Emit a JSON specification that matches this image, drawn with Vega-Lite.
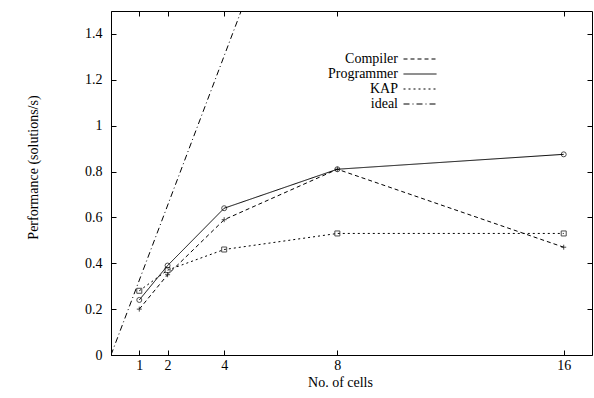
{
  "$schema": "https://vega.github.io/schema/vega-lite/v6.json",
  "width": 481,
  "height": 344,
  "autosize": {"type": "none"},
  "padding": {"left": 111, "top": 11, "right": 2, "bottom": 43},
  "background": "white",
  "config": {
    "font": "Liberation Serif",
    "view": {"stroke": "black", "strokeWidth": 1},
    "axis": {"grid": false, "domainColor": "black", "tickColor": "black", "labelColor": "black", "titleColor": "black", "labelFont": "Liberation Serif", "titleFont": "Liberation Serif", "labelFontSize": 14, "titleFontSize": 14, "titleFontWeight": "normal"},
    "legend": {"labelFont": "Liberation Serif"}
  },
  "datasets": {
    "perf": [
      {"cells": 1, "perf": 0.20, "series": "Compiler"},
      {"cells": 2, "perf": 0.35, "series": "Compiler"},
      {"cells": 4, "perf": 0.59, "series": "Compiler"},
      {"cells": 8, "perf": 0.81, "series": "Compiler"},
      {"cells": 16, "perf": 0.47, "series": "Compiler"},
      {"cells": 1, "perf": 0.24, "series": "Programmer"},
      {"cells": 2, "perf": 0.39, "series": "Programmer"},
      {"cells": 4, "perf": 0.64, "series": "Programmer"},
      {"cells": 8, "perf": 0.81, "series": "Programmer"},
      {"cells": 16, "perf": 0.875, "series": "Programmer"},
      {"cells": 1, "perf": 0.28, "series": "KAP"},
      {"cells": 2, "perf": 0.37, "series": "KAP"},
      {"cells": 4, "perf": 0.46, "series": "KAP"},
      {"cells": 8, "perf": 0.53, "series": "KAP"},
      {"cells": 16, "perf": 0.53, "series": "KAP"},
      {"cells": 0, "perf": 0, "series": "ideal"},
      {"cells": 4.6, "perf": 1.5, "series": "ideal"}
    ]
  },
  "data": {"name": "perf"},
  "resolve": {"axis": {"x": "independent", "y": "independent"}},
  "layer": [
    {
      "mark": {"type": "line", "color": "black", "strokeWidth": 1, "clip": true},
      "encoding": {
        "x": {"field": "cells", "type": "quantitative", "scale": {"domain": [0, 17], "nice": false, "zero": false},
          "axis": {"values": [1, 2, 4, 8, 16], "title": "No. of cells", "tickSize": -5, "labelPadding": 8, "titleX": 229, "titleY": 20, "titleBaseline": "top", "titlePadding": 0}},
        "y": {"field": "perf", "type": "quantitative", "scale": {"domain": [0, 1.5], "nice": false},
          "axis": {"values": [0, 0.2, 0.4, 0.6, 0.8, 1, 1.2, 1.4], "format": "~g", "title": "Performance (solutions/s)", "tickSize": -5, "labelPadding": 14, "titleX": -71, "titleY": 156}},
        "strokeDash": {"field": "series", "type": "nominal",
          "scale": {"domain": ["Compiler", "Programmer", "KAP", "ideal"], "range": [[4, 3], [1, 0], [2, 3], [6, 3, 1, 3]]},
          "legend": {"title": null, "orient": "none", "legendX": 257, "legendY": 41, "symbolType": "M-3,0L3,0", "symbolStrokeColor": "black", "symbolFillColor": "transparent", "symbolSize": 121, "symbolStrokeWidth": 1, "labelAlign": "right", "labelOffset": -29, "labelFontSize": 14, "labelFont": "Liberation Serif", "labelColor": "black", "rowPadding": 1, "symbolOffset": 45}},
        "order": {"field": "cells", "type": "quantitative"}
      }
    },
    {
      "transform": [{"filter": "datum.series !== 'ideal'"}],
      "mark": {"type": "point", "filled": false, "color": "black", "size": 25, "strokeWidth": 1},
      "encoding": {
        "x": {"field": "cells", "type": "quantitative",
          "axis": {"orient": "top", "values": [1, 2, 4, 8, 16], "labels": false, "title": null, "tickSize": -5, "domain": false}},
        "y": {"field": "perf", "type": "quantitative",
          "axis": {"orient": "right", "values": [0.2, 0.4, 0.6, 0.8, 1, 1.2, 1.4], "labels": false, "title": null, "tickSize": -5, "domain": false}},
        "shape": {"field": "series", "type": "nominal",
          "scale": {"domain": ["Compiler", "Programmer", "KAP"], "range": ["M-1,0L1,0M0,-1L0,1", "circle", "square"]},
          "legend": null}
      }
    }
  ]
}
